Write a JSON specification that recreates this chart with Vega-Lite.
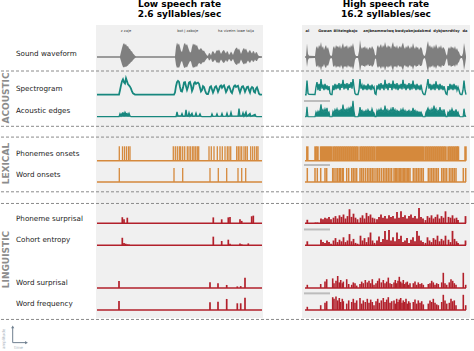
{
"$schema": "https://vega.github.io/schema/vega-lite/v6.json",
"width": 474, "height": 351, "padding": 0, "autosize": "none", "background": "white",
"config": {"view": {"stroke": null}, "axis": {"disable": true}, "font": "DejaVu Sans", "text": {"font": "DejaVu Sans"}},
"datasets": {
"wave": [
{"p":"L","t":0,"hi":0.08,"lo":-0.08},{"p":"L","t":23,"hi":0.08,"lo":-0.08},{"p":"L","t":24,"hi":0.5,"lo":-0.4},{"p":"L","t":25,"hi":0.9,"lo":-0.75},{"p":"L","t":26,"hi":1.25,"lo":-1.0},{"p":"L","t":27,"hi":1.4,"lo":-1.05},{"p":"L","t":28,"hi":1.2,"lo":-0.95},{"p":"L","t":29,"hi":1.3,"lo":-1.0},{"p":"L","t":30,"hi":1.05,"lo":-0.9},{"p":"L","t":31,"hi":1.1,"lo":-0.85},{"p":"L","t":32,"hi":0.85,"lo":-0.7},{"p":"L","t":33,"hi":0.8,"lo":-0.65},{"p":"L","t":34,"hi":0.6,"lo":-0.5},{"p":"L","t":35,"hi":0.55,"lo":-0.45},{"p":"L","t":36,"hi":0.35,"lo":-0.3},{"p":"L","t":37,"hi":0.25,"lo":-0.2},{"p":"L","t":38,"hi":0.12,"lo":-0.1},{"p":"L","t":39,"hi":0.08,"lo":-0.08},
{"p":"L","t":78,"hi":0.08,"lo":-0.08},{"p":"L","t":79,"hi":1.0,"lo":-0.8},{"p":"L","t":80,"hi":1.45,"lo":-1.1},{"p":"L","t":81,"hi":1.2,"lo":-1.0},{"p":"L","t":82,"hi":1.35,"lo":-1.1},{"p":"L","t":83,"hi":1.0,"lo":-0.85},{"p":"L","t":84,"hi":0.6,"lo":-0.5},{"p":"L","t":85,"hi":0.5,"lo":-0.4},{"p":"L","t":86,"hi":0.9,"lo":-0.75},{"p":"L","t":87,"hi":1.3,"lo":-1.05},{"p":"L","t":88,"hi":1.4,"lo":-1.1},{"p":"L","t":89,"hi":1.15,"lo":-0.95},{"p":"L","t":90,"hi":1.3,"lo":-1.05},{"p":"L","t":91,"hi":1.0,"lo":-0.8},{"p":"L","t":92,"hi":0.7,"lo":-0.6},{"p":"L","t":93,"hi":0.45,"lo":-0.4},{"p":"L","t":94,"hi":0.5,"lo":-0.45},{"p":"L","t":95,"hi":1.0,"lo":-0.85},{"p":"L","t":96,"hi":1.35,"lo":-1.1},{"p":"L","t":97,"hi":1.2,"lo":-1.0},{"p":"L","t":98,"hi":1.3,"lo":-1.05},{"p":"L","t":99,"hi":1.1,"lo":-0.9},{"p":"L","t":100,"hi":1.2,"lo":-1.0},{"p":"L","t":101,"hi":0.9,"lo":-0.75},{"p":"L","t":102,"hi":0.7,"lo":-0.6},{"p":"L","t":103,"hi":0.8,"lo":-0.65},{"p":"L","t":104,"hi":0.9,"lo":-0.75},{"p":"L","t":105,"hi":0.75,"lo":-0.6},{"p":"L","t":106,"hi":0.6,"lo":-0.5},{"p":"L","t":107,"hi":0.65,"lo":-0.55},{"p":"L","t":108,"hi":0.45,"lo":-0.4},{"p":"L","t":109,"hi":0.3,"lo":-0.25},{"p":"L","t":110,"hi":0.15,"lo":-0.12},{"p":"L","t":111,"hi":0.12,"lo":-0.1},
{"p":"L","t":112,"hi":0.4,"lo":-0.35},{"p":"L","t":113,"hi":0.35,"lo":-0.3},{"p":"L","t":114,"hi":0.15,"lo":-0.12},{"p":"L","t":115,"hi":0.5,"lo":-0.45},{"p":"L","t":116,"hi":0.6,"lo":-0.5},{"p":"L","t":117,"hi":0.45,"lo":-0.4},{"p":"L","t":118,"hi":0.3,"lo":-0.25},{"p":"L","t":119,"hi":0.55,"lo":-0.45},{"p":"L","t":120,"hi":0.7,"lo":-0.6},{"p":"L","t":121,"hi":0.6,"lo":-0.5},{"p":"L","t":122,"hi":0.75,"lo":-0.65},{"p":"L","t":123,"hi":0.55,"lo":-0.45},{"p":"L","t":124,"hi":0.3,"lo":-0.25},{"p":"L","t":125,"hi":0.5,"lo":-0.4},{"p":"L","t":126,"hi":0.65,"lo":-0.55},{"p":"L","t":127,"hi":0.7,"lo":-0.6},{"p":"L","t":128,"hi":0.5,"lo":-0.45},{"p":"L","t":129,"hi":0.35,"lo":-0.3},{"p":"L","t":130,"hi":0.6,"lo":-0.5},{"p":"L","t":131,"hi":0.5,"lo":-0.4},{"p":"L","t":132,"hi":0.2,"lo":-0.18},{"p":"L","t":133,"hi":0.35,"lo":-0.3},{"p":"L","t":134,"hi":0.55,"lo":-0.45},{"p":"L","t":135,"hi":0.4,"lo":-0.35},{"p":"L","t":136,"hi":0.2,"lo":-0.18},{"p":"L","t":137,"hi":0.5,"lo":-0.45},{"p":"L","t":138,"hi":0.75,"lo":-0.65},{"p":"L","t":139,"hi":0.9,"lo":-0.75},{"p":"L","t":140,"hi":0.95,"lo":-0.8},{"p":"L","t":141,"hi":0.7,"lo":-0.6},{"p":"L","t":142,"hi":0.85,"lo":-0.7},{"p":"L","t":143,"hi":0.6,"lo":-0.5},{"p":"L","t":144,"hi":0.3,"lo":-0.25},{"p":"L","t":145,"hi":0.55,"lo":-0.45},{"p":"L","t":146,"hi":0.8,"lo":-0.65},{"p":"L","t":147,"hi":0.9,"lo":-0.75},{"p":"L","t":148,"hi":0.7,"lo":-0.6},{"p":"L","t":149,"hi":0.85,"lo":-0.7},{"p":"L","t":150,"hi":0.6,"lo":-0.5},{"p":"L","t":151,"hi":0.4,"lo":-0.35},{"p":"L","t":152,"hi":0.6,"lo":-0.5},{"p":"L","t":153,"hi":0.7,"lo":-0.6},{"p":"L","t":154,"hi":0.5,"lo":-0.4},{"p":"L","t":155,"hi":0.35,"lo":-0.3},{"p":"L","t":156,"hi":0.6,"lo":-0.5},{"p":"L","t":157,"hi":0.55,"lo":-0.45},{"p":"L","t":158,"hi":0.3,"lo":-0.25},{"p":"L","t":159,"hi":0.5,"lo":-0.4},{"p":"L","t":160,"hi":0.45,"lo":-0.4},{"p":"L","t":161,"hi":0.2,"lo":-0.18},{"p":"L","t":162,"hi":0.1,"lo":-0.1},{"p":"L","t":165,"hi":0.08,"lo":-0.08},
{"p":"R","t":0,"hi":0.08,"lo":-0.08},{"p":"R","t":1,"hi":0.08,"lo":-0.08},{"p":"R","t":2,"hi":1.35,"lo":-1.0},{"p":"R","t":3,"hi":0.3,"lo":-0.3},{"p":"R","t":4,"hi":0.12,"lo":-0.12},{"p":"R","t":10,"hi":0.1,"lo":-0.1},{"p":"R","t":11,"hi":0.9,"lo":-0.9},{"p":"R","t":12,"hi":1.1,"lo":-1.0},{"p":"R","t":13,"hi":0.8,"lo":-0.8},{"p":"R","t":14,"hi":1.2,"lo":-1.1},{"p":"R","t":15,"hi":1.0,"lo":-0.9},{"p":"R","t":16,"hi":1.5,"lo":-1.4},{"p":"R","t":17,"hi":0.9,"lo":-0.9},{"p":"R","t":18,"hi":1.1,"lo":-1.0},{"p":"R","t":19,"hi":0.7,"lo":-0.7},{"p":"R","t":20,"hi":1.0,"lo":-1.0},{"p":"R","t":21,"hi":1.2,"lo":-1.1},{"p":"R","t":22,"hi":0.8,"lo":-0.8},{"p":"R","t":23,"hi":1.0,"lo":-0.9},{"p":"R","t":24,"hi":0.6,"lo":-0.6},{"p":"R","t":25,"hi":0.2,"lo":-0.2},{"p":"R","t":26,"hi":0.1,"lo":-0.1},{"p":"R","t":27,"hi":0.15,"lo":-0.15},
{"p":"R","t":28,"hi":0.9,"lo":-0.9},{"p":"R","t":29,"hi":1.1,"lo":-1.0},{"p":"R","t":30,"hi":0.8,"lo":-0.8},{"p":"R","t":31,"hi":1.2,"lo":-1.1},{"p":"R","t":32,"hi":1.0,"lo":-0.9},{"p":"R","t":33,"hi":1.1,"lo":-1.0},{"p":"R","t":34,"hi":0.9,"lo":-0.9},{"p":"R","t":35,"hi":1.2,"lo":-1.1},{"p":"R","t":36,"hi":0.8,"lo":-0.8},{"p":"R","t":37,"hi":1.1,"lo":-1.0},{"p":"R","t":38,"hi":1.4,"lo":-1.3},{"p":"R","t":39,"hi":0.9,"lo":-0.9},{"p":"R","t":40,"hi":1.1,"lo":-1.0},{"p":"R","t":41,"hi":1.0,"lo":-0.9},{"p":"R","t":42,"hi":1.2,"lo":-1.1},{"p":"R","t":43,"hi":0.8,"lo":-0.8},{"p":"R","t":44,"hi":1.1,"lo":-1.0},{"p":"R","t":45,"hi":0.9,"lo":-0.9},{"p":"R","t":46,"hi":1.2,"lo":-1.1},{"p":"R","t":47,"hi":1.0,"lo":-0.9},{"p":"R","t":48,"hi":1.4,"lo":-1.3},{"p":"R","t":49,"hi":0.9,"lo":-0.9},{"p":"R","t":50,"hi":0.3,"lo":-0.3},{"p":"R","t":51,"hi":0.1,"lo":-0.1},{"p":"R","t":53,"hi":0.1,"lo":-0.1},
{"p":"R","t":54,"hi":0.6,"lo":-0.6},{"p":"R","t":55,"hi":1.7,"lo":-1.5},{"p":"R","t":56,"hi":1.0,"lo":-0.9},{"p":"R","t":57,"hi":0.8,"lo":-0.8},{"p":"R","t":58,"hi":1.0,"lo":-0.9},{"p":"R","t":59,"hi":0.9,"lo":-0.9},{"p":"R","t":60,"hi":1.1,"lo":-1.0},{"p":"R","t":61,"hi":0.8,"lo":-0.8},{"p":"R","t":62,"hi":1.0,"lo":-0.9},{"p":"R","t":63,"hi":0.7,"lo":-0.7},{"p":"R","t":64,"hi":0.9,"lo":-0.9},{"p":"R","t":65,"hi":1.0,"lo":-0.9},{"p":"R","t":66,"hi":0.8,"lo":-0.8},{"p":"R","t":67,"hi":1.1,"lo":-1.0},{"p":"R","t":68,"hi":0.9,"lo":-0.9},{"p":"R","t":69,"hi":0.7,"lo":-0.7},{"p":"R","t":70,"hi":0.2,"lo":-0.2},{"p":"R","t":71,"hi":0.15,"lo":-0.15},
{"p":"R","t":72,"hi":1.0,"lo":-0.9},{"p":"R","t":73,"hi":1.2,"lo":-1.1},{"p":"R","t":74,"hi":0.9,"lo":-0.9},{"p":"R","t":75,"hi":1.1,"lo":-1.0},{"p":"R","t":76,"hi":1.3,"lo":-1.2},{"p":"R","t":77,"hi":0.9,"lo":-0.9},{"p":"R","t":78,"hi":1.2,"lo":-1.1},{"p":"R","t":79,"hi":1.0,"lo":-0.9},{"p":"R","t":80,"hi":1.5,"lo":-1.4},{"p":"R","t":81,"hi":1.1,"lo":-1.0},{"p":"R","t":82,"hi":0.9,"lo":-0.9},{"p":"R","t":83,"hi":1.2,"lo":-1.1},{"p":"R","t":84,"hi":1.0,"lo":-0.9},{"p":"R","t":85,"hi":1.1,"lo":-1.0},{"p":"R","t":86,"hi":0.8,"lo":-0.8},{"p":"R","t":87,"hi":1.2,"lo":-1.1},{"p":"R","t":88,"hi":1.5,"lo":-1.4},{"p":"R","t":89,"hi":1.0,"lo":-0.9},{"p":"R","t":90,"hi":1.1,"lo":-1.0},{"p":"R","t":91,"hi":0.9,"lo":-0.9},{"p":"R","t":92,"hi":1.2,"lo":-1.1},{"p":"R","t":93,"hi":0.8,"lo":-0.8},{"p":"R","t":94,"hi":1.0,"lo":-0.9},{"p":"R","t":95,"hi":1.1,"lo":-1.0},{"p":"R","t":96,"hi":0.9,"lo":-0.9},{"p":"R","t":97,"hi":1.2,"lo":-1.1},{"p":"R","t":98,"hi":1.45,"lo":-1.35},{"p":"R","t":99,"hi":1.0,"lo":-0.9},{"p":"R","t":100,"hi":0.8,"lo":-0.8},{"p":"R","t":101,"hi":1.1,"lo":-1.0},{"p":"R","t":102,"hi":0.9,"lo":-0.9},{"p":"R","t":103,"hi":1.2,"lo":-1.1},{"p":"R","t":104,"hi":1.0,"lo":-0.9},{"p":"R","t":105,"hi":0.8,"lo":-0.8},{"p":"R","t":106,"hi":1.1,"lo":-1.0},{"p":"R","t":107,"hi":0.9,"lo":-0.9},{"p":"R","t":108,"hi":1.4,"lo":-1.3},{"p":"R","t":109,"hi":1.0,"lo":-0.9},{"p":"R","t":110,"hi":0.8,"lo":-0.8},{"p":"R","t":111,"hi":1.1,"lo":-1.0},{"p":"R","t":112,"hi":0.9,"lo":-0.9},{"p":"R","t":113,"hi":1.0,"lo":-0.9},{"p":"R","t":114,"hi":0.7,"lo":-0.7},{"p":"R","t":115,"hi":0.9,"lo":-0.9},{"p":"R","t":116,"hi":1.0,"lo":-0.9},{"p":"R","t":117,"hi":0.8,"lo":-0.8},{"p":"R","t":118,"hi":0.3,"lo":-0.3},{"p":"R","t":119,"hi":0.12,"lo":-0.12},{"p":"R","t":120,"hi":0.12,"lo":-0.12},
{"p":"R","t":121,"hi":0.5,"lo":-0.5},{"p":"R","t":122,"hi":1.2,"lo":-1.1},{"p":"R","t":123,"hi":1.6,"lo":-1.5},{"p":"R","t":124,"hi":1.0,"lo":-0.9},{"p":"R","t":125,"hi":1.2,"lo":-1.1},{"p":"R","t":126,"hi":0.9,"lo":-0.9},{"p":"R","t":127,"hi":1.1,"lo":-1.0},{"p":"R","t":128,"hi":0.8,"lo":-0.8},{"p":"R","t":129,"hi":1.2,"lo":-1.1},{"p":"R","t":130,"hi":0.9,"lo":-0.9},{"p":"R","t":131,"hi":1.3,"lo":-1.2},{"p":"R","t":132,"hi":1.0,"lo":-0.9},{"p":"R","t":133,"hi":0.8,"lo":-0.8},{"p":"R","t":134,"hi":1.1,"lo":-1.0},{"p":"R","t":135,"hi":0.9,"lo":-0.9},{"p":"R","t":136,"hi":1.2,"lo":-1.1},{"p":"R","t":137,"hi":0.8,"lo":-0.8},{"p":"R","t":138,"hi":1.0,"lo":-0.9},{"p":"R","t":139,"hi":0.9,"lo":-0.9},{"p":"R","t":140,"hi":0.7,"lo":-0.7},{"p":"R","t":141,"hi":0.3,"lo":-0.3},{"p":"R","t":142,"hi":0.12,"lo":-0.12},
{"p":"R","t":143,"hi":0.8,"lo":-0.8},{"p":"R","t":144,"hi":1.0,"lo":-0.9},{"p":"R","t":145,"hi":0.8,"lo":-0.8},{"p":"R","t":146,"hi":1.1,"lo":-1.0},{"p":"R","t":147,"hi":0.9,"lo":-0.9},{"p":"R","t":148,"hi":1.0,"lo":-0.9},{"p":"R","t":149,"hi":0.8,"lo":-0.8},{"p":"R","t":150,"hi":1.1,"lo":-1.0},{"p":"R","t":151,"hi":0.7,"lo":-0.7},{"p":"R","t":152,"hi":0.9,"lo":-0.9},{"p":"R","t":153,"hi":0.6,"lo":-0.6},{"p":"R","t":154,"hi":0.5,"lo":-0.5},{"p":"R","t":155,"hi":0.2,"lo":-0.2},{"p":"R","t":156,"hi":0.1,"lo":-0.1},{"p":"R","t":157,"hi":0.1,"lo":-0.1},{"p":"R","t":158,"hi":0.4,"lo":-0.4},{"p":"R","t":159,"hi":1.4,"lo":-1.3},{"p":"R","t":160,"hi":0.8,"lo":-0.8},{"p":"R","t":161,"hi":0.1,"lo":-0.1}
],
"spec": [
{"p":"L","t":0,"v":0.02},{"p":"L","t":22,"v":0.02},{"p":"L","t":23,"v":0.3},{"p":"L","t":24,"v":0.6},{"p":"L","t":25,"v":0.85},{"p":"L","t":26,"v":0.98},{"p":"L","t":27,"v":0.8},{"p":"L","t":28,"v":0.72},{"p":"L","t":29,"v":1.04},{"p":"L","t":30,"v":0.85},{"p":"L","t":31,"v":0.67},{"p":"L","t":32,"v":0.6},{"p":"L","t":33,"v":0.52},{"p":"L","t":34,"v":0.4},{"p":"L","t":35,"v":0.22},{"p":"L","t":36,"v":0.1},{"p":"L","t":38,"v":0.03},{"p":"L","t":39,"v":0.02},{"p":"L","t":77,"v":0.02},{"p":"L","t":78,"v":0.15},{"p":"L","t":79,"v":0.55},{"p":"L","t":80,"v":0.8},{"p":"L","t":81,"v":0.88},{"p":"L","t":82,"v":0.82},{"p":"L","t":83,"v":0.5},{"p":"L","t":84,"v":0.25},{"p":"L","t":85,"v":0.22},{"p":"L","t":86,"v":0.45},{"p":"L","t":87,"v":0.78},{"p":"L","t":88,"v":0.8},{"p":"L","t":89,"v":0.55},{"p":"L","t":90,"v":0.32},{"p":"L","t":91,"v":0.5},{"p":"L","t":92,"v":0.78},{"p":"L","t":93,"v":0.82},{"p":"L","t":94,"v":0.6},{"p":"L","t":95,"v":0.25},{"p":"L","t":96,"v":0.4},{"p":"L","t":97,"v":0.72},{"p":"L","t":98,"v":0.8},{"p":"L","t":99,"v":0.7},{"p":"L","t":100,"v":0.75},{"p":"L","t":101,"v":0.78},{"p":"L","t":102,"v":0.7},{"p":"L","t":103,"v":0.45},{"p":"L","t":104,"v":0.22},{"p":"L","t":105,"v":0.3},{"p":"L","t":106,"v":0.55},{"p":"L","t":107,"v":0.5},{"p":"L","t":108,"v":0.3},{"p":"L","t":109,"v":0.12},{"p":"L","t":110,"v":0.05},{"p":"L","t":111,"v":0.05},{"p":"L","t":112,"v":0.25},{"p":"L","t":113,"v":0.5},{"p":"L","t":114,"v":0.55},{"p":"L","t":115,"v":0.35},{"p":"L","t":116,"v":0.15},{"p":"L","t":117,"v":0.3},{"p":"L","t":118,"v":0.5},{"p":"L","t":119,"v":0.55},{"p":"L","t":120,"v":0.4},{"p":"L","t":121,"v":0.2},{"p":"L","t":122,"v":0.35},{"p":"L","t":123,"v":0.55},{"p":"L","t":124,"v":0.6},{"p":"L","t":125,"v":0.45},{"p":"L","t":126,"v":0.55},{"p":"L","t":127,"v":0.6},{"p":"L","t":128,"v":0.4},{"p":"L","t":129,"v":0.18},{"p":"L","t":130,"v":0.3},{"p":"L","t":131,"v":0.5},{"p":"L","t":132,"v":0.55},{"p":"L","t":133,"v":0.4},{"p":"L","t":134,"v":0.2},{"p":"L","t":135,"v":0.12},{"p":"L","t":136,"v":0.35},{"p":"L","t":137,"v":0.55},{"p":"L","t":138,"v":0.6},{"p":"L","t":139,"v":0.5},{"p":"L","t":140,"v":0.55},{"p":"L","t":141,"v":0.58},{"p":"L","t":142,"v":0.35},{"p":"L","t":143,"v":0.15},{"p":"L","t":144,"v":0.35},{"p":"L","t":145,"v":0.52},{"p":"L","t":146,"v":0.55},{"p":"L","t":147,"v":0.4},{"p":"L","t":148,"v":0.2},{"p":"L","t":149,"v":0.35},{"p":"L","t":150,"v":0.5},{"p":"L","t":151,"v":0.52},{"p":"L","t":152,"v":0.3},{"p":"L","t":153,"v":0.15},{"p":"L","t":154,"v":0.4},{"p":"L","t":155,"v":0.5},{"p":"L","t":156,"v":0.45},{"p":"L","t":157,"v":0.2},{"p":"L","t":158,"v":0.15},{"p":"L","t":159,"v":0.4},{"p":"L","t":160,"v":0.48},{"p":"L","t":161,"v":0.3},{"p":"L","t":162,"v":0.08},{"p":"L","t":163,"v":0.03},{"p":"L","t":165,"v":0.02},
{"p":"R","t":0,"v":0.02},{"p":"R","t":1,"v":0.02},{"p":"R","t":2,"v":0.9},{"p":"R","t":3,"v":0.1},{"p":"R","t":4,"v":0.04},{"p":"R","t":10,"v":0.03},{"p":"R","t":11,"v":0.5},{"p":"R","t":12,"v":0.8},{"p":"R","t":13,"v":0.3},{"p":"R","t":14,"v":0.7},{"p":"R","t":15,"v":0.25},{"p":"R","t":16,"v":1.0},{"p":"R","t":17,"v":0.4},{"p":"R","t":18,"v":0.65},{"p":"R","t":19,"v":0.3},{"p":"R","t":20,"v":0.7},{"p":"R","t":21,"v":0.35},{"p":"R","t":22,"v":0.6},{"p":"R","t":23,"v":0.3},{"p":"R","t":24,"v":0.55},{"p":"R","t":25,"v":0.1},{"p":"R","t":26,"v":0.03},{"p":"R","t":27,"v":0.03},{"p":"R","t":28,"v":0.6},{"p":"R","t":29,"v":0.3},{"p":"R","t":30,"v":0.7},{"p":"R","t":31,"v":0.35},{"p":"R","t":32,"v":0.65},{"p":"R","t":33,"v":0.4},{"p":"R","t":34,"v":0.75},{"p":"R","t":35,"v":0.3},{"p":"R","t":36,"v":0.7},{"p":"R","t":37,"v":0.45},{"p":"R","t":38,"v":0.95},{"p":"R","t":39,"v":0.35},{"p":"R","t":40,"v":0.7},{"p":"R","t":41,"v":0.4},{"p":"R","t":42,"v":0.75},{"p":"R","t":43,"v":0.3},{"p":"R","t":44,"v":0.7},{"p":"R","t":45,"v":0.45},{"p":"R","t":46,"v":0.8},{"p":"R","t":47,"v":0.4},{"p":"R","t":48,"v":1.0},{"p":"R","t":49,"v":0.5},{"p":"R","t":50,"v":0.1},{"p":"R","t":51,"v":0.03},{"p":"R","t":53,"v":0.03},{"p":"R","t":54,"v":0.3},{"p":"R","t":55,"v":1.0},{"p":"R","t":56,"v":0.4},{"p":"R","t":57,"v":0.6},{"p":"R","t":58,"v":0.3},{"p":"R","t":59,"v":0.65},{"p":"R","t":60,"v":0.35},{"p":"R","t":61,"v":0.6},{"p":"R","t":62,"v":0.3},{"p":"R","t":63,"v":0.7},{"p":"R","t":64,"v":0.35},{"p":"R","t":65,"v":0.6},{"p":"R","t":66,"v":0.3},{"p":"R","t":67,"v":0.65},{"p":"R","t":68,"v":0.4},{"p":"R","t":69,"v":0.5},{"p":"R","t":70,"v":0.08},{"p":"R","t":71,"v":0.03},{"p":"R","t":72,"v":0.6},{"p":"R","t":73,"v":0.35},{"p":"R","t":74,"v":0.7},{"p":"R","t":75,"v":0.3},{"p":"R","t":76,"v":0.75},{"p":"R","t":77,"v":0.4},{"p":"R","t":78,"v":0.65},{"p":"R","t":79,"v":0.3},{"p":"R","t":80,"v":0.95},{"p":"R","t":81,"v":0.4},{"p":"R","t":82,"v":0.7},{"p":"R","t":83,"v":0.3},{"p":"R","t":84,"v":0.75},{"p":"R","t":85,"v":0.45},{"p":"R","t":86,"v":0.7},{"p":"R","t":87,"v":0.3},{"p":"R","t":88,"v":0.9},{"p":"R","t":89,"v":0.4},{"p":"R","t":90,"v":0.7},{"p":"R","t":91,"v":0.35},{"p":"R","t":92,"v":0.75},{"p":"R","t":93,"v":0.3},{"p":"R","t":94,"v":0.65},{"p":"R","t":95,"v":0.4},{"p":"R","t":96,"v":0.7},{"p":"R","t":97,"v":0.35},{"p":"R","t":98,"v":0.95},{"p":"R","t":99,"v":0.4},{"p":"R","t":100,"v":0.7},{"p":"R","t":101,"v":0.3},{"p":"R","t":102,"v":0.65},{"p":"R","t":103,"v":0.4},{"p":"R","t":104,"v":0.75},{"p":"R","t":105,"v":0.3},{"p":"R","t":106,"v":0.7},{"p":"R","t":107,"v":0.35},{"p":"R","t":108,"v":0.9},{"p":"R","t":109,"v":0.4},{"p":"R","t":110,"v":0.65},{"p":"R","t":111,"v":0.3},{"p":"R","t":112,"v":0.7},{"p":"R","t":113,"v":0.35},{"p":"R","t":114,"v":0.6},{"p":"R","t":115,"v":0.3},{"p":"R","t":116,"v":0.65},{"p":"R","t":117,"v":0.3},{"p":"R","t":118,"v":0.1},{"p":"R","t":119,"v":0.03},{"p":"R","t":120,"v":0.03},{"p":"R","t":121,"v":0.3},{"p":"R","t":122,"v":0.6},{"p":"R","t":123,"v":1.0},{"p":"R","t":124,"v":0.4},{"p":"R","t":125,"v":0.7},{"p":"R","t":126,"v":0.3},{"p":"R","t":127,"v":0.65},{"p":"R","t":128,"v":0.35},{"p":"R","t":129,"v":0.7},{"p":"R","t":130,"v":0.3},{"p":"R","t":131,"v":0.85},{"p":"R","t":132,"v":0.4},{"p":"R","t":133,"v":0.65},{"p":"R","t":134,"v":0.3},{"p":"R","t":135,"v":0.7},{"p":"R","t":136,"v":0.35},{"p":"R","t":137,"v":0.6},{"p":"R","t":138,"v":0.3},{"p":"R","t":139,"v":0.55},{"p":"R","t":140,"v":0.3},{"p":"R","t":141,"v":0.08},{"p":"R","t":142,"v":0.03},{"p":"R","t":143,"v":0.55},{"p":"R","t":144,"v":0.3},{"p":"R","t":145,"v":0.7},{"p":"R","t":146,"v":0.35},{"p":"R","t":147,"v":0.65},{"p":"R","t":148,"v":0.3},{"p":"R","t":149,"v":0.7},{"p":"R","t":150,"v":0.35},{"p":"R","t":151,"v":0.6},{"p":"R","t":152,"v":0.3},{"p":"R","t":153,"v":0.5},{"p":"R","t":154,"v":0.3},{"p":"R","t":155,"v":0.08},{"p":"R","t":156,"v":0.03},{"p":"R","t":157,"v":0.03},{"p":"R","t":158,"v":0.3},{"p":"R","t":159,"v":0.9},{"p":"R","t":160,"v":0.3},{"p":"R","t":161,"v":0.02}
],
"edge": [
{"p":"L","t":0,"v":0},{"p":"L","t":22,"v":0},{"p":"L","t":23,"v":0.18},{"p":"L","t":24,"v":0.05},{"p":"L","t":25,"v":0.2},{"p":"L","t":26,"v":0.25},{"p":"L","t":27,"v":0.1},{"p":"L","t":28,"v":0.28},{"p":"L","t":29,"v":0.15},{"p":"L","t":30,"v":0.2},{"p":"L","t":31,"v":0.08},{"p":"L","t":32,"v":0.22},{"p":"L","t":33,"v":0.05},{"p":"L","t":34,"v":0},{"p":"L","t":79,"v":0},{"p":"L","t":80,"v":0.3},{"p":"L","t":81,"v":0.05},{"p":"L","t":84,"v":0.05},{"p":"L","t":85,"v":0.2},{"p":"L","t":86,"v":0.03},{"p":"L","t":88,"v":0.04},{"p":"L","t":89,"v":0.42},{"p":"L","t":90,"v":0.05},{"p":"L","t":91,"v":0.03},{"p":"L","t":92,"v":0.25},{"p":"L","t":93,"v":0.03},{"p":"L","t":95,"v":0.22},{"p":"L","t":96,"v":0.03},{"p":"L","t":98,"v":0.05},{"p":"L","t":99,"v":0.23},{"p":"L","t":100,"v":0.03},{"p":"L","t":102,"v":0.05},{"p":"L","t":103,"v":0.18},{"p":"L","t":104,"v":0.03},{"p":"L","t":105,"v":0},{"p":"L","t":114,"v":0},{"p":"L","t":115,"v":0.18},{"p":"L","t":116,"v":0.02},{"p":"L","t":119,"v":0.03},{"p":"L","t":120,"v":0.18},{"p":"L","t":121,"v":0.02},{"p":"L","t":124,"v":0.03},{"p":"L","t":125,"v":0.2},{"p":"L","t":126,"v":0.02},{"p":"L","t":129,"v":0.03},{"p":"L","t":130,"v":0.22},{"p":"L","t":131,"v":0.02},{"p":"L","t":133,"v":0.05},{"p":"L","t":134,"v":0.28},{"p":"L","t":135,"v":0.03},{"p":"L","t":141,"v":0.03},{"p":"L","t":142,"v":0.5},{"p":"L","t":143,"v":0.05},{"p":"L","t":145,"v":0.05},{"p":"L","t":146,"v":0.25},{"p":"L","t":147,"v":0.03},{"p":"L","t":149,"v":0.3},{"p":"L","t":150,"v":0.03},{"p":"L","t":153,"v":0.2},{"p":"L","t":154,"v":0.02},{"p":"L","t":158,"v":0.15},{"p":"L","t":159,"v":0.02},{"p":"L","t":160,"v":0},{"p":"L","t":165,"v":0},
{"p":"R","t":0,"v":0},{"p":"R","t":1,"v":0},{"p":"R","t":2,"v":0.62},{"p":"R","t":3,"v":0},{"p":"R","t":10,"v":0},{"p":"R","t":11,"v":0.3},{"p":"R","t":12,"v":0.15},{"p":"R","t":13,"v":0.35},{"p":"R","t":14,"v":0.2},{"p":"R","t":15,"v":0.4},{"p":"R","t":16,"v":0.78},{"p":"R","t":17,"v":0.3},{"p":"R","t":18,"v":0.45},{"p":"R","t":19,"v":0.25},{"p":"R","t":20,"v":0.5},{"p":"R","t":21,"v":0.3},{"p":"R","t":22,"v":0.55},{"p":"R","t":23,"v":0.2},{"p":"R","t":24,"v":0.3},{"p":"R","t":25,"v":0},{"p":"R","t":27,"v":0},{"p":"R","t":28,"v":0.35},{"p":"R","t":29,"v":0.2},{"p":"R","t":30,"v":0.45},{"p":"R","t":31,"v":0.3},{"p":"R","t":32,"v":0.5},{"p":"R","t":33,"v":0.25},{"p":"R","t":34,"v":0.4},{"p":"R","t":35,"v":0.3},{"p":"R","t":36,"v":0.45},{"p":"R","t":37,"v":0.35},{"p":"R","t":38,"v":0.75},{"p":"R","t":39,"v":0.3},{"p":"R","t":40,"v":0.45},{"p":"R","t":41,"v":0.35},{"p":"R","t":42,"v":0.5},{"p":"R","t":43,"v":0.3},{"p":"R","t":44,"v":0.55},{"p":"R","t":45,"v":0.4},{"p":"R","t":46,"v":0.6},{"p":"R","t":47,"v":0.45},{"p":"R","t":48,"v":1.0},{"p":"R","t":49,"v":0.35},{"p":"R","t":50,"v":0},{"p":"R","t":53,"v":0},{"p":"R","t":54,"v":0.2},{"p":"R","t":55,"v":0.6},{"p":"R","t":56,"v":0.3},{"p":"R","t":57,"v":0.4},{"p":"R","t":58,"v":0.2},{"p":"R","t":59,"v":0.35},{"p":"R","t":60,"v":0.25},{"p":"R","t":61,"v":0.4},{"p":"R","t":62,"v":0.2},{"p":"R","t":63,"v":0.45},{"p":"R","t":64,"v":0.3},{"p":"R","t":65,"v":0.35},{"p":"R","t":66,"v":0.2},{"p":"R","t":67,"v":0.5},{"p":"R","t":68,"v":0.3},{"p":"R","t":69,"v":0.25},{"p":"R","t":70,"v":0},{"p":"R","t":71,"v":0},{"p":"R","t":72,"v":0.4},{"p":"R","t":73,"v":0.25},{"p":"R","t":74,"v":0.45},{"p":"R","t":75,"v":0.3},{"p":"R","t":76,"v":0.5},{"p":"R","t":77,"v":0.3},{"p":"R","t":78,"v":0.4},{"p":"R","t":79,"v":0.25},{"p":"R","t":80,"v":0.7},{"p":"R","t":81,"v":0.3},{"p":"R","t":82,"v":0.45},{"p":"R","t":83,"v":0.2},{"p":"R","t":84,"v":0.4},{"p":"R","t":85,"v":0.3},{"p":"R","t":86,"v":0.5},{"p":"R","t":87,"v":0.25},{"p":"R","t":88,"v":0.6},{"p":"R","t":89,"v":0.3},{"p":"R","t":90,"v":0.45},{"p":"R","t":91,"v":0.2},{"p":"R","t":92,"v":0.4},{"p":"R","t":93,"v":0.3},{"p":"R","t":94,"v":0.35},{"p":"R","t":95,"v":0.2},{"p":"R","t":96,"v":0.45},{"p":"R","t":97,"v":0.3},{"p":"R","t":98,"v":0.5},{"p":"R","t":99,"v":0.25},{"p":"R","t":100,"v":0.4},{"p":"R","t":101,"v":0.2},{"p":"R","t":102,"v":0.35},{"p":"R","t":103,"v":0.3},{"p":"R","t":104,"v":0.4},{"p":"R","t":105,"v":0.2},{"p":"R","t":106,"v":0.35},{"p":"R","t":107,"v":0.25},{"p":"R","t":108,"v":0.55},{"p":"R","t":109,"v":0.3},{"p":"R","t":110,"v":0.4},{"p":"R","t":111,"v":0.2},{"p":"R","t":112,"v":0.35},{"p":"R","t":113,"v":0.25},{"p":"R","t":114,"v":0.3},{"p":"R","t":115,"v":0.2},{"p":"R","t":116,"v":0.3},{"p":"R","t":117,"v":0.15},{"p":"R","t":118,"v":0},{"p":"R","t":120,"v":0},{"p":"R","t":121,"v":0.3},{"p":"R","t":122,"v":0.4},{"p":"R","t":123,"v":0.55},{"p":"R","t":124,"v":0.3},{"p":"R","t":125,"v":0.45},{"p":"R","t":126,"v":0.25},{"p":"R","t":127,"v":0.5},{"p":"R","t":128,"v":0.3},{"p":"R","t":129,"v":0.7},{"p":"R","t":130,"v":0.35},{"p":"R","t":131,"v":0.5},{"p":"R","t":132,"v":0.2},{"p":"R","t":133,"v":0.4},{"p":"R","t":134,"v":0.3},{"p":"R","t":135,"v":0.6},{"p":"R","t":136,"v":0.25},{"p":"R","t":137,"v":0.4},{"p":"R","t":138,"v":0.2},{"p":"R","t":139,"v":0.45},{"p":"R","t":140,"v":0.2},{"p":"R","t":141,"v":0},{"p":"R","t":142,"v":0},{"p":"R","t":143,"v":0.3},{"p":"R","t":144,"v":0.2},{"p":"R","t":145,"v":0.4},{"p":"R","t":146,"v":0.25},{"p":"R","t":147,"v":0.5},{"p":"R","t":148,"v":0.3},{"p":"R","t":149,"v":0.35},{"p":"R","t":150,"v":0.2},{"p":"R","t":151,"v":0.45},{"p":"R","t":152,"v":0.2},{"p":"R","t":153,"v":0.3},{"p":"R","t":154,"v":0.1},{"p":"R","t":155,"v":0},{"p":"R","t":158,"v":0},{"p":"R","t":159,"v":0.5},{"p":"R","t":160,"v":0.1},{"p":"R","t":161,"v":0}
],
"phon": [
{"p":"L","t":22.3},{"p":"L","t":25.5},{"p":"L","t":27.5},{"p":"L","t":29.5},{"p":"L","t":31.5},{"p":"L","t":33},{"p":"L","t":76.3},{"p":"L","t":78.3},{"p":"L","t":80.3},{"p":"L","t":82.3},{"p":"L","t":83.7},{"p":"L","t":85.7},{"p":"L","t":87.7},{"p":"L","t":90.3},{"p":"L","t":92},{"p":"L","t":93.7},{"p":"L","t":95.7},{"p":"L","t":97},{"p":"L","t":98.7},{"p":"L","t":100.3},{"p":"L","t":101.7},{"p":"L","t":112},{"p":"L","t":114.3},{"p":"L","t":117},{"p":"L","t":120.3},{"p":"L","t":123},{"p":"L","t":125.3},{"p":"L","t":128},{"p":"L","t":130.3},{"p":"L","t":132},{"p":"L","t":133.7},{"p":"L","t":139.7},{"p":"L","t":141.3},{"p":"L","t":143},{"p":"L","t":144.7},{"p":"L","t":147},{"p":"L","t":148.7},{"p":"L","t":150.3},{"p":"L","t":153.7},{"p":"L","t":155.7},{"p":"L","t":157.7},{"p":"L","t":159.7},{"p":"L","t":161},
{"p":"R","t":2.3},{"p":"R","t":10.5},{"p":"R","t":12.5},{"p":"R","t":16},{"p":"R","t":18},{"p":"R","t":20},{"p":"R","t":22},{"p":"R","t":24},{"p":"R","t":26},{"p":"R","t":28.5},{"p":"R","t":30.5},{"p":"R","t":32.5},{"p":"R","t":34.5},{"p":"R","t":36.5},{"p":"R","t":38.5},{"p":"R","t":40.5},{"p":"R","t":42.5},{"p":"R","t":44.5},{"p":"R","t":46.5},{"p":"R","t":48.5},{"p":"R","t":50.5},{"p":"R","t":52.5},{"p":"R","t":55.5},{"p":"R","t":57.5},{"p":"R","t":59.5},{"p":"R","t":61.5},{"p":"R","t":63.5},{"p":"R","t":65.5},{"p":"R","t":67.5},{"p":"R","t":69.5},{"p":"R","t":72},{"p":"R","t":74},{"p":"R","t":76},{"p":"R","t":78},{"p":"R","t":80},{"p":"R","t":82},{"p":"R","t":84},{"p":"R","t":86},{"p":"R","t":88},{"p":"R","t":90},{"p":"R","t":92},{"p":"R","t":94},{"p":"R","t":96},{"p":"R","t":98},{"p":"R","t":100},{"p":"R","t":102},{"p":"R","t":104},{"p":"R","t":106},{"p":"R","t":108},{"p":"R","t":110},{"p":"R","t":112},{"p":"R","t":114},{"p":"R","t":116},{"p":"R","t":118},{"p":"R","t":120.5},{"p":"R","t":122.5},{"p":"R","t":124.5},{"p":"R","t":126.5},{"p":"R","t":128.5},{"p":"R","t":130.5},{"p":"R","t":132.5},{"p":"R","t":134.5},{"p":"R","t":136.5},{"p":"R","t":138.5},{"p":"R","t":140.5},{"p":"R","t":143.5},{"p":"R","t":145.5},{"p":"R","t":147.5},{"p":"R","t":149.5},{"p":"R","t":151.5},{"p":"R","t":153},{"p":"R","t":160.5}
],
"word": [
{"p":"L","t":22.3},{"p":"L","t":77},{"p":"L","t":85.7},{"p":"L","t":113},{"p":"L","t":121.3},{"p":"L","t":129.7},{"p":"L","t":141},{"p":"L","t":144.7},{"p":"L","t":148.7},
{"p":"R","t":2.3},{"p":"R","t":10},{"p":"R","t":12.3},{"p":"R","t":15.7},{"p":"R","t":20},{"p":"R","t":21.7},{"p":"R","t":27.7},{"p":"R","t":29},{"p":"R","t":31},{"p":"R","t":32.7},{"p":"R","t":34.3},{"p":"R","t":35.7},{"p":"R","t":37.3},{"p":"R","t":38.3},{"p":"R","t":41.7},{"p":"R","t":43.7},{"p":"R","t":46.7},{"p":"R","t":48.3},{"p":"R","t":50},{"p":"R","t":51.7},{"p":"R","t":55},{"p":"R","t":56.7},{"p":"R","t":58.3},{"p":"R","t":60.3},{"p":"R","t":62.3},{"p":"R","t":64},{"p":"R","t":65.7},{"p":"R","t":67.3},{"p":"R","t":69},{"p":"R","t":71},{"p":"R","t":72.7},{"p":"R","t":74.3},{"p":"R","t":76.3},{"p":"R","t":78.3},{"p":"R","t":80},{"p":"R","t":81.7},{"p":"R","t":83.3},{"p":"R","t":85},{"p":"R","t":86.7},{"p":"R","t":89},{"p":"R","t":90.3},{"p":"R","t":91.7},{"p":"R","t":93},{"p":"R","t":94.3},{"p":"R","t":95.7},{"p":"R","t":97},{"p":"R","t":98.3},{"p":"R","t":99.7},{"p":"R","t":101},{"p":"R","t":102.3},{"p":"R","t":103.7},{"p":"R","t":105},{"p":"R","t":108.3},{"p":"R","t":110},{"p":"R","t":111.7},{"p":"R","t":113.3},{"p":"R","t":115},{"p":"R","t":116.7},{"p":"R","t":118.3},{"p":"R","t":123.3},{"p":"R","t":125},{"p":"R","t":126.7},{"p":"R","t":128.3},{"p":"R","t":130},{"p":"R","t":131.7},{"p":"R","t":133.3},{"p":"R","t":136.7},{"p":"R","t":138.3},{"p":"R","t":140},{"p":"R","t":141.7},{"p":"R","t":144.3},{"p":"R","t":146},{"p":"R","t":147.7},{"p":"R","t":149.3},{"p":"R","t":151},{"p":"R","t":158.3},{"p":"R","t":160.7}
],
"psur": [
{"p":"L","t":25.3,"v":0.38},{"p":"L","t":27,"v":0.25},{"p":"L","t":30.3,"v":0.35},{"p":"L","t":116.3,"v":0.37},{"p":"L","t":124.7,"v":0.25},{"p":"L","t":131.3,"v":0.37},{"p":"L","t":133,"v":0.4},{"p":"L","t":143,"v":0.25},{"p":"L","t":144.7,"v":0.15},{"p":"L","t":154.7,"v":0.44},{"p":"L","t":156.3,"v":0.48},
{"p":"R","t":2.3,"v":0.22},{"p":"R","t":10.5,"v":0.05},{"p":"R","t":12.5,"v":0.05},{"p":"R","t":16,"v":0.3},{"p":"R","t":18,"v":0.25},{"p":"R","t":20,"v":0.35},{"p":"R","t":22,"v":0.3},{"p":"R","t":24,"v":0.4},{"p":"R","t":26,"v":0.25},{"p":"R","t":28.5,"v":0.35},{"p":"R","t":30.5,"v":0.45},{"p":"R","t":32.5,"v":0.3},{"p":"R","t":34.5,"v":0.5},{"p":"R","t":36.5,"v":0.4},{"p":"R","t":38.5,"v":0.55},{"p":"R","t":40.5,"v":0.3},{"p":"R","t":42.5,"v":0.45},{"p":"R","t":44.5,"v":0.88},{"p":"R","t":46.5,"v":0.4},{"p":"R","t":48.5,"v":0.6},{"p":"R","t":50.5,"v":0.35},{"p":"R","t":52.5,"v":0.25},{"p":"R","t":55.5,"v":0.35},{"p":"R","t":57.5,"v":0.5},{"p":"R","t":59.5,"v":0.3},{"p":"R","t":61.5,"v":0.65},{"p":"R","t":63.5,"v":0.45},{"p":"R","t":65.5,"v":0.55},{"p":"R","t":67.5,"v":0.35},{"p":"R","t":69.5,"v":0.3},{"p":"R","t":72,"v":0.25},{"p":"R","t":74,"v":0.4},{"p":"R","t":76,"v":0.55},{"p":"R","t":78,"v":0.35},{"p":"R","t":80,"v":0.45},{"p":"R","t":82,"v":0.3},{"p":"R","t":84,"v":0.5},{"p":"R","t":86,"v":0.4},{"p":"R","t":88,"v":0.45},{"p":"R","t":90,"v":0.3},{"p":"R","t":92,"v":0.7},{"p":"R","t":94,"v":0.35},{"p":"R","t":96,"v":0.75},{"p":"R","t":98,"v":0.4},{"p":"R","t":100,"v":0.5},{"p":"R","t":102,"v":0.3},{"p":"R","t":104,"v":0.45},{"p":"R","t":106,"v":0.55},{"p":"R","t":108,"v":0.35},{"p":"R","t":110,"v":0.45},{"p":"R","t":112,"v":0.3},{"p":"R","t":114,"v":0.95},{"p":"R","t":116,"v":0.4},{"p":"R","t":118,"v":0.3},{"p":"R","t":120.5,"v":0.2},{"p":"R","t":122.5,"v":0.45},{"p":"R","t":124.5,"v":0.35},{"p":"R","t":126.5,"v":0.5},{"p":"R","t":128.5,"v":0.3},{"p":"R","t":130.5,"v":0.4},{"p":"R","t":132.5,"v":0.55},{"p":"R","t":134.5,"v":0.3},{"p":"R","t":136.5,"v":0.45},{"p":"R","t":138.5,"v":0.35},{"p":"R","t":140.5,"v":0.75},{"p":"R","t":143.5,"v":0.4},{"p":"R","t":145.5,"v":0.35},{"p":"R","t":147.5,"v":0.5},{"p":"R","t":149.5,"v":0.3},{"p":"R","t":151.5,"v":0.35},{"p":"R","t":153,"v":0.2},{"p":"R","t":160.5,"v":0.45}
],
"coh": [
{"p":"L","t":25.3,"v":0.47},{"p":"L","t":27,"v":0.15},{"p":"L","t":28.7,"v":0.1},{"p":"L","t":30.3,"v":0.06},{"p":"L","t":32,"v":0.05},{"p":"L","t":116.3,"v":0.54},{"p":"L","t":124.7,"v":0.27},{"p":"L","t":131.3,"v":0.35},{"p":"L","t":133,"v":0.1},{"p":"L","t":143,"v":0.12},{"p":"L","t":144.7,"v":0.06},{"p":"L","t":151.3,"v":0.12},
{"p":"R","t":2.3,"v":0.25},{"p":"R","t":16,"v":0.35},{"p":"R","t":18,"v":0.2},{"p":"R","t":20,"v":0.15},{"p":"R","t":22,"v":0.3},{"p":"R","t":24,"v":0.2},{"p":"R","t":26,"v":0.1},{"p":"R","t":28.5,"v":0.3},{"p":"R","t":30.5,"v":0.45},{"p":"R","t":32.5,"v":0.2},{"p":"R","t":34.5,"v":0.35},{"p":"R","t":36.5,"v":0.25},{"p":"R","t":38.5,"v":0.5},{"p":"R","t":40.5,"v":0.2},{"p":"R","t":42.5,"v":0.3},{"p":"R","t":44.5,"v":0.7},{"p":"R","t":46.5,"v":0.25},{"p":"R","t":48.5,"v":0.4},{"p":"R","t":50.5,"v":0.15},{"p":"R","t":52.5,"v":0.1},{"p":"R","t":55.5,"v":0.6},{"p":"R","t":57.5,"v":0.3},{"p":"R","t":59.5,"v":0.45},{"p":"R","t":61.5,"v":0.2},{"p":"R","t":63.5,"v":0.5},{"p":"R","t":65.5,"v":0.8},{"p":"R","t":67.5,"v":0.3},{"p":"R","t":69.5,"v":0.15},{"p":"R","t":72,"v":0.3},{"p":"R","t":74,"v":0.55},{"p":"R","t":76,"v":0.2},{"p":"R","t":78,"v":0.4},{"p":"R","t":80,"v":0.9},{"p":"R","t":82,"v":0.35},{"p":"R","t":84,"v":0.95},{"p":"R","t":86,"v":0.3},{"p":"R","t":88,"v":0.5},{"p":"R","t":90,"v":0.25},{"p":"R","t":92,"v":0.8},{"p":"R","t":94,"v":0.4},{"p":"R","t":96,"v":0.6},{"p":"R","t":98,"v":0.2},{"p":"R","t":100,"v":0.3},{"p":"R","t":102,"v":0.45},{"p":"R","t":104,"v":0.15},{"p":"R","t":106,"v":0.35},{"p":"R","t":108,"v":0.5},{"p":"R","t":110,"v":0.25},{"p":"R","t":112,"v":0.9},{"p":"R","t":114,"v":0.6},{"p":"R","t":116,"v":0.3},{"p":"R","t":118,"v":0.2},{"p":"R","t":120.5,"v":0.15},{"p":"R","t":122.5,"v":0.5},{"p":"R","t":124.5,"v":0.3},{"p":"R","t":126.5,"v":0.2},{"p":"R","t":128.5,"v":0.45},{"p":"R","t":130.5,"v":0.35},{"p":"R","t":132.5,"v":0.6},{"p":"R","t":134.5,"v":0.25},{"p":"R","t":136.5,"v":0.4},{"p":"R","t":138.5,"v":0.3},{"p":"R","t":140.5,"v":0.6},{"p":"R","t":143.5,"v":0.35},{"p":"R","t":145.5,"v":0.2},{"p":"R","t":147.5,"v":0.9},{"p":"R","t":149.5,"v":0.4},{"p":"R","t":151.5,"v":0.25},{"p":"R","t":153,"v":0.15},{"p":"R","t":160.5,"v":0.3}
],
"wsur": [
{"p":"L","t":22,"v":0.44},{"p":"L","t":113,"v":0.36},{"p":"L","t":121,"v":0.3},{"p":"L","t":129.7,"v":0.19},{"p":"L","t":140.3,"v":0.1},{"p":"L","t":143.7,"v":0.12},{"p":"L","t":148,"v":0.64},
{"p":"R","t":2.3,"v":0.2},{"p":"R","t":15.7,"v":0.25},{"p":"R","t":20,"v":0.4},{"p":"R","t":21.7,"v":0.55},{"p":"R","t":27.7,"v":0.6},{"p":"R","t":29,"v":0.3},{"p":"R","t":31,"v":0.45},{"p":"R","t":32.7,"v":0.75},{"p":"R","t":34.3,"v":0.35},{"p":"R","t":35.7,"v":0.5},{"p":"R","t":37.3,"v":0.3},{"p":"R","t":38.3,"v":0.4},{"p":"R","t":41.7,"v":0.55},{"p":"R","t":43.7,"v":0.25},{"p":"R","t":46.7,"v":0.2},{"p":"R","t":48.3,"v":0.35},{"p":"R","t":50,"v":0.3},{"p":"R","t":51.7,"v":0.15},{"p":"R","t":55,"v":0.25},{"p":"R","t":56.7,"v":0.4},{"p":"R","t":58.3,"v":0.3},{"p":"R","t":60.3,"v":0.5},{"p":"R","t":62.3,"v":0.35},{"p":"R","t":64,"v":0.45},{"p":"R","t":65.7,"v":0.3},{"p":"R","t":67.3,"v":0.55},{"p":"R","t":69,"v":0.2},{"p":"R","t":71,"v":0.3},{"p":"R","t":72.7,"v":0.45},{"p":"R","t":74.3,"v":0.6},{"p":"R","t":76.3,"v":0.35},{"p":"R","t":78.3,"v":0.5},{"p":"R","t":80,"v":0.3},{"p":"R","t":81.7,"v":0.4},{"p":"R","t":83.3,"v":0.65},{"p":"R","t":85,"v":0.3},{"p":"R","t":86.7,"v":0.25},{"p":"R","t":89,"v":0.35},{"p":"R","t":90.3,"v":0.5},{"p":"R","t":91.7,"v":0.3},{"p":"R","t":93,"v":0.45},{"p":"R","t":94.3,"v":0.7},{"p":"R","t":95.7,"v":0.4},{"p":"R","t":97,"v":0.3},{"p":"R","t":98.3,"v":0.5},{"p":"R","t":99.7,"v":0.25},{"p":"R","t":101,"v":0.35},{"p":"R","t":102.3,"v":0.4},{"p":"R","t":103.7,"v":0.2},{"p":"R","t":105,"v":0.3},{"p":"R","t":108.3,"v":0.3},{"p":"R","t":110,"v":0.4},{"p":"R","t":111.7,"v":0.2},{"p":"R","t":113.3,"v":0.35},{"p":"R","t":115,"v":0.25},{"p":"R","t":116.7,"v":0.3},{"p":"R","t":118.3,"v":0.2},{"p":"R","t":123.3,"v":0.25},{"p":"R","t":125,"v":0.3},{"p":"R","t":126.7,"v":0.45},{"p":"R","t":128.3,"v":0.35},{"p":"R","t":130,"v":0.2},{"p":"R","t":131.7,"v":0.3},{"p":"R","t":133.3,"v":0.25},{"p":"R","t":136.7,"v":0.35},{"p":"R","t":138.3,"v":0.95},{"p":"R","t":140,"v":0.3},{"p":"R","t":141.7,"v":0.2},{"p":"R","t":144.3,"v":0.35},{"p":"R","t":146,"v":0.55},{"p":"R","t":147.7,"v":0.45},{"p":"R","t":149.3,"v":0.3},{"p":"R","t":151,"v":0.2},{"p":"R","t":158.3,"v":0.95},{"p":"R","t":160.7,"v":0.2}
],
"wfreq": [
{"p":"L","t":22,"v":0.56},{"p":"L","t":113,"v":0.48},{"p":"L","t":121,"v":0.52},{"p":"L","t":129.7,"v":0.69},{"p":"L","t":140.3,"v":0.42},{"p":"L","t":143.7,"v":0.42},{"p":"L","t":148,"v":0.77},
{"p":"R","t":2.3,"v":0.2},{"p":"R","t":15.7,"v":0.3},{"p":"R","t":20,"v":0.45},{"p":"R","t":21.7,"v":0.55},{"p":"R","t":27.7,"v":0.8},{"p":"R","t":29,"v":0.7},{"p":"R","t":31,"v":0.85},{"p":"R","t":32.7,"v":0.6},{"p":"R","t":34.3,"v":0.75},{"p":"R","t":35.7,"v":0.5},{"p":"R","t":37.3,"v":0.7},{"p":"R","t":38.3,"v":0.55},{"p":"R","t":41.7,"v":0.4},{"p":"R","t":43.7,"v":0.6},{"p":"R","t":46.7,"v":0.5},{"p":"R","t":48.3,"v":0.7},{"p":"R","t":50,"v":0.45},{"p":"R","t":51.7,"v":0.6},{"p":"R","t":55,"v":0.75},{"p":"R","t":56.7,"v":0.4},{"p":"R","t":58.3,"v":0.6},{"p":"R","t":60.3,"v":0.5},{"p":"R","t":62.3,"v":0.7},{"p":"R","t":64,"v":0.45},{"p":"R","t":65.7,"v":0.65},{"p":"R","t":67.3,"v":0.5},{"p":"R","t":69,"v":0.3},{"p":"R","t":71,"v":0.55},{"p":"R","t":72.7,"v":0.7},{"p":"R","t":74.3,"v":0.45},{"p":"R","t":76.3,"v":0.6},{"p":"R","t":78.3,"v":0.75},{"p":"R","t":80,"v":0.5},{"p":"R","t":81.7,"v":0.65},{"p":"R","t":83.3,"v":0.8},{"p":"R","t":85,"v":0.45},{"p":"R","t":86.7,"v":0.55},{"p":"R","t":89,"v":0.6},{"p":"R","t":90.3,"v":0.4},{"p":"R","t":91.7,"v":0.7},{"p":"R","t":93,"v":0.5},{"p":"R","t":94.3,"v":0.65},{"p":"R","t":95.7,"v":0.75},{"p":"R","t":97,"v":0.45},{"p":"R","t":98.3,"v":0.6},{"p":"R","t":99.7,"v":0.5},{"p":"R","t":101,"v":0.7},{"p":"R","t":102.3,"v":0.4},{"p":"R","t":103.7,"v":0.55},{"p":"R","t":105,"v":0.45},{"p":"R","t":108.3,"v":0.5},{"p":"R","t":110,"v":0.65},{"p":"R","t":111.7,"v":0.4},{"p":"R","t":113.3,"v":0.6},{"p":"R","t":115,"v":0.45},{"p":"R","t":116.7,"v":0.55},{"p":"R","t":118.3,"v":0.35},{"p":"R","t":123.3,"v":0.4},{"p":"R","t":125,"v":0.6},{"p":"R","t":126.7,"v":0.5},{"p":"R","t":128.3,"v":0.7},{"p":"R","t":130,"v":0.45},{"p":"R","t":131.7,"v":0.35},{"p":"R","t":133.3,"v":0.3},{"p":"R","t":136.7,"v":0.5},{"p":"R","t":138.3,"v":0.95},{"p":"R","t":140,"v":0.6},{"p":"R","t":141.7,"v":0.4},{"p":"R","t":144.3,"v":0.45},{"p":"R","t":146,"v":0.7},{"p":"R","t":147.7,"v":0.55},{"p":"R","t":149.3,"v":0.6},{"p":"R","t":151,"v":0.3},{"p":"R","t":158.3,"v":0.95},{"p":"R","t":160.7,"v":0.3}
]
},
"resolve": {"scale": {"x": "independent", "y": "independent"}},
"layer": [
{"data": {"values": [{}]}, "mark": {"type": "rect", "color": "#f0f0f0"},
 "encoding": {"x": {"datum": -1, "type": "quantitative", "scale": {"domain": [0,165], "range": [97,262], "nice": false, "zero": false}}, "x2": {"datum": 166},
  "y": {"datum": 0, "type": "quantitative", "scale": {"domain": [0,1], "range": [318,25], "nice": false, "zero": false}}, "y2": {"datum": 1}}},
{"data": {"values": [{}]}, "mark": {"type": "rect", "color": "#f0f0f0"},
 "encoding": {"x": {"datum": -3, "type": "quantitative", "scale": {"domain": [0,161], "range": [305,466], "nice": false, "zero": false}}, "x2": {"datum": 165},
  "y": {"datum": 0, "type": "quantitative", "scale": {"domain": [0,1], "range": [318,25], "nice": false, "zero": false}}, "y2": {"datum": 1}}},

{"layer": [
 {"data": {"name": "wave"}, "transform": [{"filter": "datum.p == 'L'"}], "mark": {"type": "area", "color": "#7f7f7f", "opacity": 1, "fillOpacity": 1},
  "encoding": {"x": {"field": "t", "type": "quantitative", "scale": {"domain": [0,165], "range": [97,262], "nice": false, "zero": false}},
   "y": {"field": "hi", "type": "quantitative", "scale": {"domain": [-1,1], "range": [67,47], "nice": false, "zero": false}}, "y2": {"field": "lo"}}},
 {"data": {"values": [{}]}, "mark": {"type": "rule", "color": "#8a8a8a", "strokeDash": [3,2], "strokeWidth": 1}, "encoding": {"y": {"datum": -1.4}}},
 {"data": {"values": [{}]}, "mark": {"type": "text", "align": "left", "baseline": "middle", "fontSize": 7.2, "color": "#1a1a1a", "fill": "#1a1a1a"},
  "encoding": {"x": {"datum": -81}, "y": {"datum": 0.35}, "text": {"value": "Sound waveform"}}},
 {"data": {"values": [{}]}, "mark": {"type": "text", "align": "center", "baseline": "alphabetic", "fontSize": 9, "fontWeight": "bold", "lineHeight": 9.3, "color": "#000", "fill": "#000"},
  "encoding": {"x": {"datum": 82.5}, "y": {"datum": 4.97}, "text": {"value": ["Low speech rate", "2.6 syllables/sec"]}}},
 {"data": {"values": [{"t": 29, "w": "z zaje"}, {"t": 90.7, "w": "bot j zaboje"}, {"t": 139, "w": "ha vizeirn iowe taija"}]},
  "mark": {"type": "text", "align": "center", "baseline": "middle", "fontSize": 3.6, "color": "#333", "fill": "#333"},
  "encoding": {"x": {"field": "t", "type": "quantitative"}, "y": {"datum": 2.6}, "text": {"field": "w"}}}
]},
{"layer": [
 {"data": {"name": "wave"}, "transform": [{"filter": "datum.p == 'R'"}], "mark": {"type": "area", "color": "#7f7f7f", "opacity": 1, "fillOpacity": 1},
  "encoding": {"x": {"field": "t", "type": "quantitative", "scale": {"domain": [0,161], "range": [305,466], "nice": false, "zero": false}},
   "y": {"field": "hi", "type": "quantitative", "scale": {"domain": [-1,1], "range": [67,47], "nice": false, "zero": false}}, "y2": {"field": "lo"}}},
 {"data": {"values": [{}]}, "mark": {"type": "text", "align": "center", "baseline": "alphabetic", "fontSize": 9, "fontWeight": "bold", "lineHeight": 9.3, "color": "#000", "fill": "#000"},
  "encoding": {"x": {"datum": 81}, "y": {"datum": 4.97}, "text": {"value": ["High speech rate", "16.2 syllables/sec"]}}},
 {"data": {"values": [{"t": 2.3, "w": "al"}, {"t": 20, "w": "Gowan"}, {"t": 40.5, "w": "Blitzingbajo"}, {"t": 92, "w": "anjbnamnwlwq bwdyabnjadakmd"}, {"t": 141.5, "w": "dybjwnrdtlsy"}, {"t": 160, "w": "da"}]},
  "mark": {"type": "text", "align": "center", "baseline": "middle", "fontSize": 3.6, "fontWeight": "bold", "color": "#222", "fill": "#222"},
  "encoding": {"x": {"field": "t", "type": "quantitative"}, "y": {"datum": 2.6}, "text": {"field": "w"}}}
]},

{"layer": [
 {"data": {"name": "spec"}, "transform": [{"filter": "datum.p == 'L'"}], "mark": {"type": "line", "color": "#17877e", "strokeWidth": 1.8},
  "encoding": {"x": {"field": "t", "type": "quantitative", "scale": {"domain": [0,165], "range": [97,262], "nice": false, "zero": false}},
   "y": {"field": "v", "type": "quantitative", "scale": {"domain": [0,1], "range": [95,79], "nice": false, "zero": false}}}},
 {"data": {"values": [{}]}, "mark": {"type": "text", "align": "left", "baseline": "middle", "fontSize": 7.2, "color": "#1a1a1a", "fill": "#1a1a1a"},
  "encoding": {"x": {"datum": -81}, "y": {"datum": 0.375}, "text": {"value": "Spectrogram"}}},
 {"data": {"values": [{}]}, "mark": {"type": "text", "align": "center", "baseline": "middle", "angle": 270, "fontSize": 9, "fontWeight": "bold", "color": "#8c8c8c", "fill": "#8c8c8c"},
  "encoding": {"x": {"datum": -91}, "y": {"datum": -0.19}, "text": {"value": "ACOUSTIC"}}}
]},
{"layer": [
 {"data": {"name": "spec"}, "transform": [{"filter": "datum.p == 'R'"}], "mark": {"type": "line", "color": "#17877e", "strokeWidth": 1.4},
  "encoding": {"x": {"field": "t", "type": "quantitative", "scale": {"domain": [0,161], "range": [305,466], "nice": false, "zero": false}},
   "y": {"field": "v", "type": "quantitative", "scale": {"domain": [0,1], "range": [95,79], "nice": false, "zero": false}}}},
 {"data": {"values": [{}]}, "mark": {"type": "rule", "color": "#bcbcbc", "strokeWidth": 2},
  "encoding": {"x": {"datum": -1}, "x2": {"datum": 25}, "y": {"datum": -0.375}}}
]},

{"layer": [
 {"data": {"name": "edge"}, "transform": [{"filter": "datum.p == 'L'"}], "mark": {"type": "area", "color": "#17877e", "opacity": 1, "fillOpacity": 1, "line": {"color": "#17877e", "strokeWidth": 1.3}},
  "encoding": {"x": {"field": "t", "type": "quantitative", "scale": {"domain": [0,165], "range": [97,262], "nice": false, "zero": false}},
   "y": {"field": "v", "type": "quantitative", "scale": {"domain": [0,1], "range": [116.7,100.7], "nice": false, "zero": false}}}},
 {"data": {"values": [{}]}, "mark": {"type": "rule", "color": "#8a8a8a", "strokeDash": [3,2], "strokeWidth": 1}, "encoding": {"y": {"datum": -0.6}}},
 {"data": {"values": [{}]}, "mark": {"type": "text", "align": "left", "baseline": "middle", "fontSize": 7.2, "color": "#1a1a1a", "fill": "#1a1a1a"},
  "encoding": {"x": {"datum": -81}, "y": {"datum": 0.375}, "text": {"value": "Acoustic edges"}}}
]},
{"layer": [
 {"data": {"name": "edge"}, "transform": [{"filter": "datum.p == 'R'"}], "mark": {"type": "area", "color": "#17877e", "opacity": 1, "fillOpacity": 1, "line": {"color": "#17877e", "strokeWidth": 1.1}},
  "encoding": {"x": {"field": "t", "type": "quantitative", "scale": {"domain": [0,161], "range": [305,466], "nice": false, "zero": false}},
   "y": {"field": "v", "type": "quantitative", "scale": {"domain": [0,1], "range": [116.7,100.7], "nice": false, "zero": false}}}}
]},

{"layer": [
 {"data": {"name": "phon"}, "transform": [{"filter": "datum.p == 'L'"}], "mark": {"type": "rule", "color": "#d5893c", "strokeWidth": 1.3},
  "encoding": {"x": {"field": "t", "type": "quantitative", "scale": {"domain": [0,165], "range": [97,262], "nice": false, "zero": false}},
   "y": {"datum": 0, "type": "quantitative", "scale": {"domain": [0,1], "range": [160.7,146.3], "nice": false, "zero": false}}, "y2": {"datum": 1}}},
 {"data": {"values": [{}]}, "mark": {"type": "rule", "color": "#d5893c", "strokeWidth": 1.5},
  "encoding": {"x": {"datum": 0}, "x2": {"datum": 165}, "y": {"datum": 0}}},
 {"data": {"values": [{}]}, "mark": {"type": "rule", "color": "#8a8a8a", "strokeDash": [3,2], "strokeWidth": 1}, "encoding": {"y": {"datum": 1.64}}},
 {"data": {"values": [{}]}, "mark": {"type": "text", "align": "left", "baseline": "middle", "fontSize": 7.2, "color": "#1a1a1a", "fill": "#1a1a1a"},
  "encoding": {"x": {"datum": -81}, "y": {"datum": 0.47}, "text": {"value": "Phonemes onsets"}}},
 {"data": {"values": [{}]}, "mark": {"type": "text", "align": "center", "baseline": "middle", "angle": 270, "fontSize": 9, "fontWeight": "bold", "color": "#8c8c8c", "fill": "#8c8c8c"},
  "encoding": {"x": {"datum": -91}, "y": {"datum": -0.2}, "text": {"value": "LEXICAL"}}}
]},
{"layer": [
 {"data": {"name": "phon"}, "transform": [{"filter": "datum.p == 'R'"}], "mark": {"type": "rule", "color": "#d5893c", "strokeWidth": 2.5},
  "encoding": {"x": {"field": "t", "type": "quantitative", "scale": {"domain": [0,161], "range": [305,466], "nice": false, "zero": false}},
   "y": {"datum": 0, "type": "quantitative", "scale": {"domain": [0,1], "range": [160.7,146.3], "nice": false, "zero": false}}, "y2": {"datum": 1}}},
 {"data": {"values": [{}]}, "mark": {"type": "rule", "color": "#d5893c", "strokeWidth": 1.5},
  "encoding": {"x": {"datum": 0}, "x2": {"datum": 161}, "y": {"datum": 0}}},
 {"data": {"values": [{}]}, "mark": {"type": "rule", "color": "#bcbcbc", "strokeWidth": 2},
  "encoding": {"x": {"datum": -1}, "x2": {"datum": 25}, "y": {"datum": -0.3}}}
]},

{"layer": [
 {"data": {"name": "word"}, "transform": [{"filter": "datum.p == 'L'"}], "mark": {"type": "rule", "color": "#d5893c", "strokeWidth": 1.3},
  "encoding": {"x": {"field": "t", "type": "quantitative", "scale": {"domain": [0,165], "range": [97,262], "nice": false, "zero": false}},
   "y": {"datum": 0, "type": "quantitative", "scale": {"domain": [0,1], "range": [182,168], "nice": false, "zero": false}}, "y2": {"datum": 1}}},
 {"data": {"values": [{}]}, "mark": {"type": "rule", "color": "#d5893c", "strokeWidth": 1.5},
  "encoding": {"x": {"datum": 0}, "x2": {"datum": 165}, "y": {"datum": 0}}},
 {"data": {"values": [{}]}, "mark": {"type": "rule", "color": "#8a8a8a", "strokeDash": [3,2], "strokeWidth": 1}, "encoding": {"y": {"datum": -0.7}}},
 {"data": {"values": [{}]}, "mark": {"type": "text", "align": "left", "baseline": "middle", "fontSize": 7.2, "color": "#1a1a1a", "fill": "#1a1a1a"},
  "encoding": {"x": {"datum": -81}, "y": {"datum": 0.48}, "text": {"value": "Word onsets"}}}
]},
{"layer": [
 {"data": {"name": "word"}, "transform": [{"filter": "datum.p == 'R'"}], "mark": {"type": "rule", "color": "#d5893c", "strokeWidth": 1.5},
  "encoding": {"x": {"field": "t", "type": "quantitative", "scale": {"domain": [0,161], "range": [305,466], "nice": false, "zero": false}},
   "y": {"datum": 0, "type": "quantitative", "scale": {"domain": [0,1], "range": [182,168], "nice": false, "zero": false}}, "y2": {"datum": 1}}},
 {"data": {"values": [{}]}, "mark": {"type": "rule", "color": "#d5893c", "strokeWidth": 1.5},
  "encoding": {"x": {"datum": 0}, "x2": {"datum": 161}, "y": {"datum": 0}}}
]},

{"layer": [
 {"data": {"name": "psur"}, "transform": [{"filter": "datum.p == 'L'"}], "mark": {"type": "rule", "color": "#b2202b", "strokeWidth": 1.7},
  "encoding": {"x": {"field": "t", "type": "quantitative", "scale": {"domain": [0,165], "range": [97,262], "nice": false, "zero": false}},
   "y": {"field": "v", "type": "quantitative", "scale": {"domain": [0,1], "range": [223.3,207.3], "nice": false, "zero": false}}, "y2": {"datum": 0}}},
 {"data": {"values": [{}]}, "mark": {"type": "rule", "color": "#b2202b", "strokeWidth": 1.6},
  "encoding": {"x": {"datum": 0}, "x2": {"datum": 165}, "y": {"datum": 0}}},
 {"data": {"values": [{}]}, "mark": {"type": "rule", "color": "#8a8a8a", "strokeDash": [3,2], "strokeWidth": 1}, "encoding": {"y": {"datum": 1.24}}},
 {"data": {"values": [{}]}, "mark": {"type": "text", "align": "left", "baseline": "middle", "fontSize": 7.2, "color": "#1a1a1a", "fill": "#1a1a1a"},
  "encoding": {"x": {"datum": -81}, "y": {"datum": 0.29}, "text": {"value": "Phoneme surprisal"}}}
]},
{"layer": [
 {"data": {"name": "psur"}, "transform": [{"filter": "datum.p == 'R'"}], "mark": {"type": "rule", "color": "#b2202b", "strokeWidth": 1.8},
  "encoding": {"x": {"field": "t", "type": "quantitative", "scale": {"domain": [0,161], "range": [305,466], "nice": false, "zero": false}},
   "y": {"field": "v", "type": "quantitative", "scale": {"domain": [0,1], "range": [223.3,207.3], "nice": false, "zero": false}}, "y2": {"datum": 0}}},
 {"data": {"values": [{}]}, "mark": {"type": "rule", "color": "#b2202b", "strokeWidth": 1.6},
  "encoding": {"x": {"datum": 0}, "x2": {"datum": 161}, "y": {"datum": 0}}}
]},

{"layer": [
 {"data": {"name": "coh"}, "transform": [{"filter": "datum.p == 'L'"}], "mark": {"type": "rule", "color": "#b2202b", "strokeWidth": 1.7},
  "encoding": {"x": {"field": "t", "type": "quantitative", "scale": {"domain": [0,165], "range": [97,262], "nice": false, "zero": false}},
   "y": {"field": "v", "type": "quantitative", "scale": {"domain": [0,1], "range": [245.3,229.3], "nice": false, "zero": false}}, "y2": {"datum": 0}}},
 {"data": {"values": [{}]}, "mark": {"type": "rule", "color": "#b2202b", "strokeWidth": 1.6},
  "encoding": {"x": {"datum": 0}, "x2": {"datum": 165}, "y": {"datum": 0}}},
 {"data": {"values": [{}]}, "mark": {"type": "text", "align": "left", "baseline": "middle", "fontSize": 7.2, "color": "#1a1a1a", "fill": "#1a1a1a"},
  "encoding": {"x": {"datum": -81}, "y": {"datum": 0.33}, "text": {"value": "Cohort entropy"}}},
 {"data": {"values": [{}]}, "mark": {"type": "text", "align": "center", "baseline": "middle", "angle": 270, "fontSize": 9, "fontWeight": "bold", "color": "#8c8c8c", "fill": "#8c8c8c"},
  "encoding": {"x": {"datum": -91}, "y": {"datum": -0.89}, "text": {"value": "LINGUISTIC"}}}
]},
{"layer": [
 {"data": {"name": "coh"}, "transform": [{"filter": "datum.p == 'R'"}], "mark": {"type": "rule", "color": "#b2202b", "strokeWidth": 1.8},
  "encoding": {"x": {"field": "t", "type": "quantitative", "scale": {"domain": [0,161], "range": [305,466], "nice": false, "zero": false}},
   "y": {"field": "v", "type": "quantitative", "scale": {"domain": [0,1], "range": [245.3,229.3], "nice": false, "zero": false}}, "y2": {"datum": 0}}},
 {"data": {"values": [{}]}, "mark": {"type": "rule", "color": "#b2202b", "strokeWidth": 1.6},
  "encoding": {"x": {"datum": 0}, "x2": {"datum": 161}, "y": {"datum": 0}}},
 {"data": {"values": [{}]}, "mark": {"type": "rule", "color": "#bcbcbc", "strokeWidth": 2},
  "encoding": {"x": {"datum": -1}, "x2": {"datum": 25}, "y": {"datum": 0.99}}}
]},

{"layer": [
 {"data": {"name": "wsur"}, "transform": [{"filter": "datum.p == 'L'"}], "mark": {"type": "rule", "color": "#b2202b", "strokeWidth": 1.7},
  "encoding": {"x": {"field": "t", "type": "quantitative", "scale": {"domain": [0,165], "range": [97,262], "nice": false, "zero": false}},
   "y": {"field": "v", "type": "quantitative", "scale": {"domain": [0,1], "range": [288,272], "nice": false, "zero": false}}, "y2": {"datum": 0}}},
 {"data": {"values": [{}]}, "mark": {"type": "rule", "color": "#b2202b", "strokeWidth": 1.6},
  "encoding": {"x": {"datum": 0}, "x2": {"datum": 165}, "y": {"datum": 0}}},
 {"data": {"values": [{}]}, "mark": {"type": "text", "align": "left", "baseline": "middle", "fontSize": 7.2, "color": "#1a1a1a", "fill": "#1a1a1a"},
  "encoding": {"x": {"datum": -81}, "y": {"datum": 0.29}, "text": {"value": "Word surprisal"}}}
]},
{"layer": [
 {"data": {"name": "wsur"}, "transform": [{"filter": "datum.p == 'R'"}], "mark": {"type": "rule", "color": "#b2202b", "strokeWidth": 1.6},
  "encoding": {"x": {"field": "t", "type": "quantitative", "scale": {"domain": [0,161], "range": [305,466], "nice": false, "zero": false}},
   "y": {"field": "v", "type": "quantitative", "scale": {"domain": [0,1], "range": [288,272], "nice": false, "zero": false}}, "y2": {"datum": 0}}},
 {"data": {"values": [{}]}, "mark": {"type": "rule", "color": "#b2202b", "strokeWidth": 1.6},
  "encoding": {"x": {"datum": 0}, "x2": {"datum": 161}, "y": {"datum": 0}}}
]},

{"layer": [
 {"data": {"name": "wfreq"}, "transform": [{"filter": "datum.p == 'L'"}], "mark": {"type": "rule", "color": "#b2202b", "strokeWidth": 1.7},
  "encoding": {"x": {"field": "t", "type": "quantitative", "scale": {"domain": [0,165], "range": [97,262], "nice": false, "zero": false}},
   "y": {"field": "v", "type": "quantitative", "scale": {"domain": [0,1], "range": [310,294], "nice": false, "zero": false}}, "y2": {"datum": 0}}},
 {"data": {"values": [{}]}, "mark": {"type": "rule", "color": "#b2202b", "strokeWidth": 1.6},
  "encoding": {"x": {"datum": 0}, "x2": {"datum": 165}, "y": {"datum": 0}}},
 {"data": {"values": [{}]}, "mark": {"type": "rule", "color": "#8a8a8a", "strokeDash": [3,2], "strokeWidth": 1}, "encoding": {"y": {"datum": -0.59}}},
 {"data": {"values": [{}]}, "mark": {"type": "text", "align": "left", "baseline": "middle", "fontSize": 7.2, "color": "#1a1a1a", "fill": "#1a1a1a"},
  "encoding": {"x": {"datum": -81}, "y": {"datum": 0.36}, "text": {"value": "Word frequency"}}},
 {"data": {"values": [{}]}, "mark": {"type": "rule", "color": "#6f7f8f", "strokeWidth": 1},
  "encoding": {"x": {"datum": -84.3}, "y": {"datum": -2.04}, "y2": {"datum": -1.1}}},
 {"data": {"values": [{}]}, "mark": {"type": "rule", "color": "#6f7f8f", "strokeWidth": 1},
  "encoding": {"x": {"datum": -84.3}, "x2": {"datum": -71}, "y": {"datum": -2.04}}},
 {"data": {"values": [{}]}, "mark": {"type": "point", "shape": "triangle-up", "size": 10, "filled": true, "color": "#6f7f8f", "opacity": 1},
  "encoding": {"x": {"datum": -84.3}, "y": {"datum": -1.05}}},
 {"data": {"values": [{}]}, "mark": {"type": "point", "shape": "triangle-right", "size": 10, "filled": true, "color": "#6f7f8f", "opacity": 1},
  "encoding": {"x": {"datum": -70.5}, "y": {"datum": -2.04}}},
 {"data": {"values": [{}]}, "mark": {"type": "text", "align": "center", "baseline": "middle", "angle": 270, "fontSize": 4, "color": "#a8b2bc", "fill": "#a8b2bc"},
  "encoding": {"x": {"datum": -93.5}, "y": {"datum": -1.81}, "text": {"value": "amplitude"}}},
 {"data": {"values": [{}]}, "mark": {"type": "text", "align": "center", "baseline": "middle", "fontSize": 4, "color": "#a8b2bc", "fill": "#a8b2bc"},
  "encoding": {"x": {"datum": -78.5}, "y": {"datum": -2.4}, "text": {"value": "time"}}}
]},
{"layer": [
 {"data": {"name": "wfreq"}, "transform": [{"filter": "datum.p == 'R'"}], "mark": {"type": "rule", "color": "#b2202b", "strokeWidth": 1.6},
  "encoding": {"x": {"field": "t", "type": "quantitative", "scale": {"domain": [0,161], "range": [305,466], "nice": false, "zero": false}},
   "y": {"field": "v", "type": "quantitative", "scale": {"domain": [0,1], "range": [310,294], "nice": false, "zero": false}}, "y2": {"datum": 0}}},
 {"data": {"values": [{}]}, "mark": {"type": "rule", "color": "#b2202b", "strokeWidth": 1.6},
  "encoding": {"x": {"datum": 0}, "x2": {"datum": 161}, "y": {"datum": 0}}},
 {"data": {"values": [{}]}, "mark": {"type": "rule", "color": "#bcbcbc", "strokeWidth": 2},
  "encoding": {"x": {"datum": -1}, "x2": {"datum": 25}, "y": {"datum": 1.04}}}
]}
]
}
